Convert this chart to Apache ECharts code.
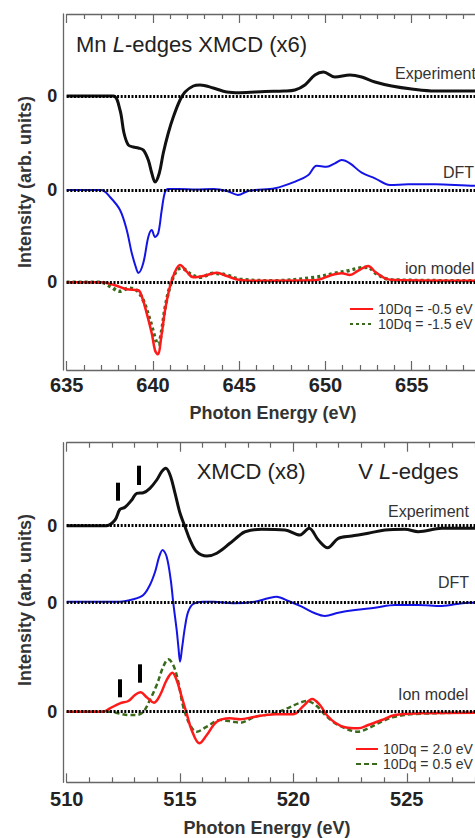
<!DOCTYPE html>
<html><head><meta charset="utf-8">
<script src="https://cdn.jsdelivr.net/npm/echarts@6/dist/echarts.min.js"></script>
<style>html,body{margin:0;padding:0;background:#fff}#c{width:475px;height:838px}</style>
</head><body><div id="c"></div>
<script>
// ===== Mn L-edges XMCD (x6) =====
const mnRange = [635, 660];
const mnExpE = [635, 636.5, 637.7, 638.09, 638.32, 638.57, 638.86, 639.15, 639.44, 639.73, 639.93, 640.12, 640.37, 640.6, 640.89, 641.18, 641.57, 641.86, 642.34, 642.73, 643.5, 644.28, 645.04, 646.5, 647.6, 648.23, 648.81, 649.39, 649.88, 650.55, 651.42, 652.1, 652.87, 653.84, 655.0, 656.35, 658.67, 660];
const mnExpI = [0, 0, 0, -1.4, -3.7, -4.9, -5.1, -5.2, -5.4, -6.4, -7.7, -8.6, -7.7, -5.7, -3.7, -2.1, -0.4, 0.4, 1.0, 1.1, 0.8, 0.4, 0.33, 0.45, 0.5, 0.6, 1.1, 2.1, 2.4, 1.9, 2.1, 1.9, 1.4, 1.0, 0.7, 0.5, 0.5, 0.5];
const mnDftE = [635, 637.0, 637.51, 638.09, 638.48, 638.77, 639.06, 639.15, 639.44, 639.73, 639.93, 640.12, 640.31, 640.51, 640.7, 640.89, 641.5, 642.5, 643.5, 644.3, 644.93, 645.51, 645.92, 647.08, 648.23, 649.01, 649.49, 650.07, 650.55, 650.94, 651.42, 652.1, 652.87, 653.74, 654.8, 656.35, 658.67, 660];
const mnDftI = [0, 0, -0.7, -2.0, -4.0, -6.3, -8.0, -8.3, -7.3, -4.7, -4.0, -4.7, -4.3, -2.0, -0.2, 0.1, 0.1, 0.05, 0.1, -0.1, -0.5, -0.1, 0, 0.17, 0.83, 1.5, 2.43, 2.33, 2.67, 3.0, 2.67, 1.73, 1.17, 0.5, 0.57, 0.57, 0.43, 0.43];
const mnIonAE = [635, 637.0, 637.8, 638.48, 639.15, 639.35, 639.64, 639.93, 640.12, 640.28, 640.51, 640.7, 640.99, 641.28, 641.57, 641.96, 642.34, 642.92, 643.7, 644.28, 645.04, 645.92, 649.39, 650.36, 650.94, 651.42, 651.9, 652.48, 652.87, 653.45, 654.03, 658.67, 660];
const mnIonAI = [0, 0, -0.3, -0.7, -0.8, -1.4, -3.1, -5.1, -6.8, -7.2, -5.1, -2.8, -0.4, 1.06, 1.73, 1.06, 0.5, 0.63, 0.96, 0.63, 0.23, 0.16, 0.2, 0.73, 0.9, 0.73, 1.16, 1.63, 1.06, 0.4, 0.23, 0.16, 0.16];
const mnIonBE = [635, 637.0, 637.51, 638.09, 638.57, 639.06, 639.44, 639.83, 640.31, 640.51, 640.7, 640.99, 641.38, 641.67, 642.25, 642.73, 643.48, 644.28, 645.04, 647.08, 649.39, 650.55, 651.32, 651.9, 652.48, 652.87, 653.45, 654.03, 658.67, 660];
const mnIonBI = [0, 0, -0.4, -0.9, -0.6, -0.8, -1.8, -3.8, -6.2, -4.8, -2.6, -0.4, 1.2, 1.4, 0.73, 0.5, 0.9, 0.73, 0.3, 0.16, 0.5, 0.9, 1.16, 1.4, 1.5, 0.96, 0.4, 0.23, 0.16, 0.16];
const mnOffsets = [18.63, 9.23, 0];          // Experiment, DFT, ion model baselines
const mnYRange = [-8.77, 26.83];
const mnNames = ['10Dq = -0.5 eV', '10Dq = -1.5 eV'];

// ===== V L-edges XMCD (x8) =====
const vRange = [510, 530];
const vExpE = [510, 511.76, 512.13, 512.35, 512.57, 512.87, 513.09, 513.38, 513.67, 513.97, 514.19, 514.37, 514.56, 514.78, 515.0, 515.22, 515.44, 515.73, 516.18, 516.62, 517.2, 517.6, 517.87, 518.6, 519.63, 520.29, 520.69, 521.1, 521.51, 521.98, 522.57, 523.3, 524.04, 524.92, 525.51, 526.54, 528, 530];
const vExpI = [0, 0, 0.57, 1.64, 1.84, 2.57, 3.24, 3.3, 3.74, 4.57, 5.4, 5.74, 5.07, 3.24, 1.24, -0.1, -1.43, -2.6, -3.03, -2.76, -1.76, -1.0, -0.6, -0.36, -0.43, -0.93, -0.26, -1.43, -2.2, -1.26, -1.03, -0.76, -0.43, -0.36, -0.6, -0.26, -0.26, -0.26];
const vDftE = [510, 512.35, 512.94, 513.38, 513.67, 513.9, 514.08, 514.23, 514.41, 514.59, 514.7, 514.85, 514.93, 515.0, 515.09, 515.22, 515.36, 515.58, 516.03, 516.47, 517.35, 518.3, 518.89, 519.26, 519.78, 520.37, 520.95, 521.39, 521.98, 522.72, 523.6, 524.48, 525.51, 526.54, 527.7, 530];
const vDftI = [0.1, 0.1, 0.34, 0.77, 1.77, 3.1, 4.6, 5.27, 4.6, 2.27, 0, -2.7, -4.5, -5.9, -4.5, -2.4, -0.9, -0.13, 0.1, 0.1, -0.06, 0.1, 0.44, 0.6, 0.17, -0.4, -1.06, -1.33, -1.0, -0.73, -0.5, -0.23, -0.23, -0.33, 0, 0];
const vIonAE = [510, 511.61, 511.91, 512.35, 512.72, 513.01, 513.26, 513.53, 513.85, 514.12, 514.41, 514.66, 514.85, 515.07, 515.29, 515.51, 515.85, 516.18, 516.62, 517.2, 517.65, 518.31, 519.19, 520.0, 520.44, 520.83, 521.17, 521.47, 521.84, 522.28, 522.86, 523.3, 523.9, 524.48, 525.51, 528, 530];
const vIonAI = [0, 0, 0.34, 0.84, 1.07, 1.67, 1.94, 1.44, 0.9, 1.67, 3.17, 3.9, 3.17, 1.5, -0.16, -1.83, -3.16, -2.33, -1.0, -0.66, -0.76, -0.5, -0.26, -0.26, 0.57, 1.27, 0.67, -0.33, -1.1, -1.56, -1.66, -1.33, -0.83, -0.33, -0.16, -0.1, -0.1];
const vIonBE = [510, 511.91, 512.35, 512.72, 513.09, 513.38, 513.67, 513.97, 514.26, 514.48, 514.7, 514.92, 515.14, 515.44, 515.73, 516.18, 516.76, 517.35, 517.65, 518.31, 519.04, 519.63, 520.22, 520.59, 521.03, 521.4, 521.98, 522.86, 523.3, 523.89, 524.48, 525.36, 528, 530];
const vIonBI = [0, 0, -0.2, -0.33, -0.33, 0, 1.17, 2.67, 4.5, 5.24, 4.67, 3.0, 0.5, -1.33, -2.0, -1.5, -0.83, -1.0, -1.1, -0.5, -0.23, 0.24, 0.84, 1.07, 0.57, -0.33, -1.33, -2.0, -1.66, -1.0, -0.5, -0.23, -0.1, -0.1];
const vOffsets = [18.6, 10.9, 0];
const vYRange = [-7.06, 26.9];
const vNames = ['10Dq = 2.0 eV', '10Dq = 0.5 eV'];
// feature markers (vertical bars): energy, low, high (relative to curve baseline)
const vExpBarE = [512.26, 513.19], vExpBarLo = [2.5, 4.07], vExpBarHi = [4.3, 6.0];
const vIonBarE = [512.35, 513.23], vIonBarLo = [1.44, 2.9], vIonBarHi = [3.24, 4.74];

const FF = '"Liberation Sans", Arial, Helvetica, sans-serif';
const AX = '#666';
const C = {exp:'#111111', dft:'#1414e6', red:'#ff1a1a', green:'#3a6a1c', dot:'#000'};

function pairs(E, I, off){ return E.map((e,i)=>[e, I[i]+off]); }
function zero(off){ return {yAxis: off, lineStyle:{color:C.dot, type:[2,1.6], width:3}}; }
function bars(E, lo, hi, off){
  return E.map((e,i)=>[{coord:[e, lo[i]+off], lineStyle:{color:'#000', width:4, type:'solid'}}, {coord:[e, hi[i]+off]}]);
}
function ml(data){ return {silent:true, symbol:['none','none'], label:{show:false}, animation:false, data:data}; }
function line(name, xi, data, color, width, type, extra){
  return Object.assign({type:'line', name:name, xAxisIndex:xi, yAxisIndex:xi>=2?1:0, data:data, symbol:'none', showSymbol:false,
    smooth:0.35, animation:false, lineStyle:{color:color, width:width, type:type||'solid'}, itemStyle:{color:color}}, extra||{});
}
function xAxes(gi, range, pos, showLabel, margin){
  return {gridIndex:gi, type:'value', min:range[0], max:range[1], interval:5, position:pos,
    axisLine:{onZero:false, lineStyle:{color:AX, width:1.3}},
    axisTick:{inside:true, length:9, lineStyle:{color:AX, width:1.2}},
    minorTick:{show:true, splitNumber:5, length:5, lineStyle:{color:AX, width:1.2}},
    splitLine:{show:false},
    axisLabel:{show:showLabel, showMaxLabel:false, fontSize:20, fontWeight:'bold', color:'#222', margin:margin, fontFamily:FF}};
}
function yAx(gi, range, offs){
  return {gridIndex:gi, type:'value', min:range[0], max:range[1], offset:3.4,
    axisLine:{show:true, onZero:false, lineStyle:{color:AX, width:1.3}},
    axisTick:{show:false}, splitLine:{show:false},
    axisLabel:{customValues:offs, formatter:()=>'0', fontSize:18, fontWeight:'bold', color:'#222', margin:6, fontFamily:FF}};
}
const legendBase = {orient:'vertical', padding:0, itemGap:1, itemWidth:23, itemHeight:8, selectedMode:false,
  itemStyle:{opacity:0, borderWidth:0}, textStyle:{fontSize:14, color:'#333', lineHeight:11, fontFamily:FF}};

const chart = echarts.init(document.getElementById('c'), null, {renderer:'svg', width:475, height:838});
const option = {
  backgroundColor:'#fff',
  animation:false,
  grid:[
    {left:66.7, top:14, width:(mnRange[1]-mnRange[0])*17.25, height:356, outerBoundsMode:'none', containLabel:false},
    {left:66.7, top:442.7, width:(vRange[1]-vRange[0])*22.67, height:339.6, outerBoundsMode:'none', containLabel:false}
  ],
  xAxis:[ xAxes(0, mnRange, 'bottom', true, 5), xAxes(0, mnRange, 'top', false, 5),
          xAxes(1, vRange, 'bottom', true, 7), xAxes(1, vRange, 'top', false, 7) ],
  yAxis:[ yAx(0, mnYRange, mnOffsets), yAx(1, vYRange, vOffsets) ],
  legend:[
    Object.assign({}, legendBase, {left:349, top:302, data:mnNames}),
    Object.assign({}, legendBase, {left:355, top:742, itemWidth:22, data:vNames})
  ],
  series:[
    line('Mn Experiment', 0, pairs(mnExpE, mnExpI, mnOffsets[0]), C.exp, 3, 'solid', {markLine:ml([zero(mnOffsets[0])])}),
    line('Mn DFT', 0, pairs(mnDftE, mnDftI, mnOffsets[1]), C.dft, 2, 'solid', {markLine:ml([zero(mnOffsets[1])])}),
    line(mnNames[1], 0, pairs(mnIonBE, mnIonBI, mnOffsets[2]), C.green, 3.5, [3,3]),
    line(mnNames[0], 0, pairs(mnIonAE, mnIonAI, mnOffsets[2]), C.red, 2.5, 'solid', {markLine:ml([zero(mnOffsets[2])])}),
    line('V Experiment', 2, pairs(vExpE, vExpI, vOffsets[0]), C.exp, 3, 'solid',
         {markLine:ml([zero(vOffsets[0])].concat(bars(vExpBarE, vExpBarLo, vExpBarHi, vOffsets[0])))}),
    line('V DFT', 2, pairs(vDftE, vDftI, vOffsets[1]), C.dft, 2, 'solid', {markLine:ml([zero(vOffsets[1])])}),
    line(vNames[1], 2, pairs(vIonBE, vIonBI, vOffsets[2]), C.green, 2.5, [5,3]),
    line(vNames[0], 2, pairs(vIonAE, vIonAI, vOffsets[2]), C.red, 2.5, 'solid',
         {markLine:ml([zero(vOffsets[2])].concat(bars(vIonBarE, vIonBarLo, vIonBarHi, vOffsets[2])))})
  ],
  graphic:[
    {type:'text', x:76, y:44, style:{text:'{a|Mn }{b|L}{a|-edges XMCD (x6)}', fill:'#222', verticalAlign:'middle', textVerticalAlign:'middle',
      rich:{a:{fontSize:22, fontFamily:FF, fill:'#222'}, b:{fontSize:22, fontFamily:FF, fontStyle:'italic', fill:'#222'}}}},
    {type:'text', x:196.7, y:471, style:{text:'XMCD (x8)', font:'22px '+FF, fill:'#222', verticalAlign:'middle', textVerticalAlign:'middle'}},
    {type:'text', x:358.3, y:471, style:{text:'{a|V }{b|L}{a|-edges}', fill:'#222', verticalAlign:'middle', textVerticalAlign:'middle',
      rich:{a:{fontSize:22, fontFamily:FF, fill:'#222'}, b:{fontSize:22, fontFamily:FF, fontStyle:'italic', fill:'#222'}}}},
    {type:'text', x:395, y:73, style:{text:'Experiment', font:'16px '+FF, fill:'#333', verticalAlign:'middle', textVerticalAlign:'middle'}},
    {type:'text', x:443, y:172, style:{text:'DFT', font:'16px '+FF, fill:'#333', verticalAlign:'middle', textVerticalAlign:'middle'}},
    {type:'text', x:405, y:268, style:{text:'ion model', font:'16px '+FF, fill:'#333', verticalAlign:'middle', textVerticalAlign:'middle'}},
    {type:'text', x:388, y:511, style:{text:'Experiment', font:'16px '+FF, fill:'#333', verticalAlign:'middle', textVerticalAlign:'middle'}},
    {type:'text', x:438, y:582, style:{text:'DFT', font:'16px '+FF, fill:'#333', verticalAlign:'middle', textVerticalAlign:'middle'}},
    {type:'text', x:398, y:694, style:{text:'Ion model', font:'16px '+FF, fill:'#333', verticalAlign:'middle', textVerticalAlign:'middle'}},
    {type:'text', x:25, y:182, rotation:Math.PI/2, style:{text:'Intensity (arb. units)', font:'bold 18px '+FF, fill:'#333', align:'center', textAlign:'center', verticalAlign:'middle', textVerticalAlign:'middle'}},
    {type:'text', x:25, y:600, rotation:Math.PI/2, style:{text:'Intensity (arb. units)', font:'bold 18px '+FF, fill:'#333', align:'center', textAlign:'center', verticalAlign:'middle', textVerticalAlign:'middle'}},
    {type:'text', x:273, y:413, style:{text:'Photon Energy (eV)', font:'bold 18px '+FF, fill:'#333', align:'center', textAlign:'center', verticalAlign:'middle', textVerticalAlign:'middle'}},
    {type:'text', x:267, y:828, style:{text:'Photon Energy (eV)', font:'bold 18px '+FF, fill:'#333', align:'center', textAlign:'center', verticalAlign:'middle', textVerticalAlign:'middle'}}
  ]
};
chart.setOption(option);
</script></body></html>
